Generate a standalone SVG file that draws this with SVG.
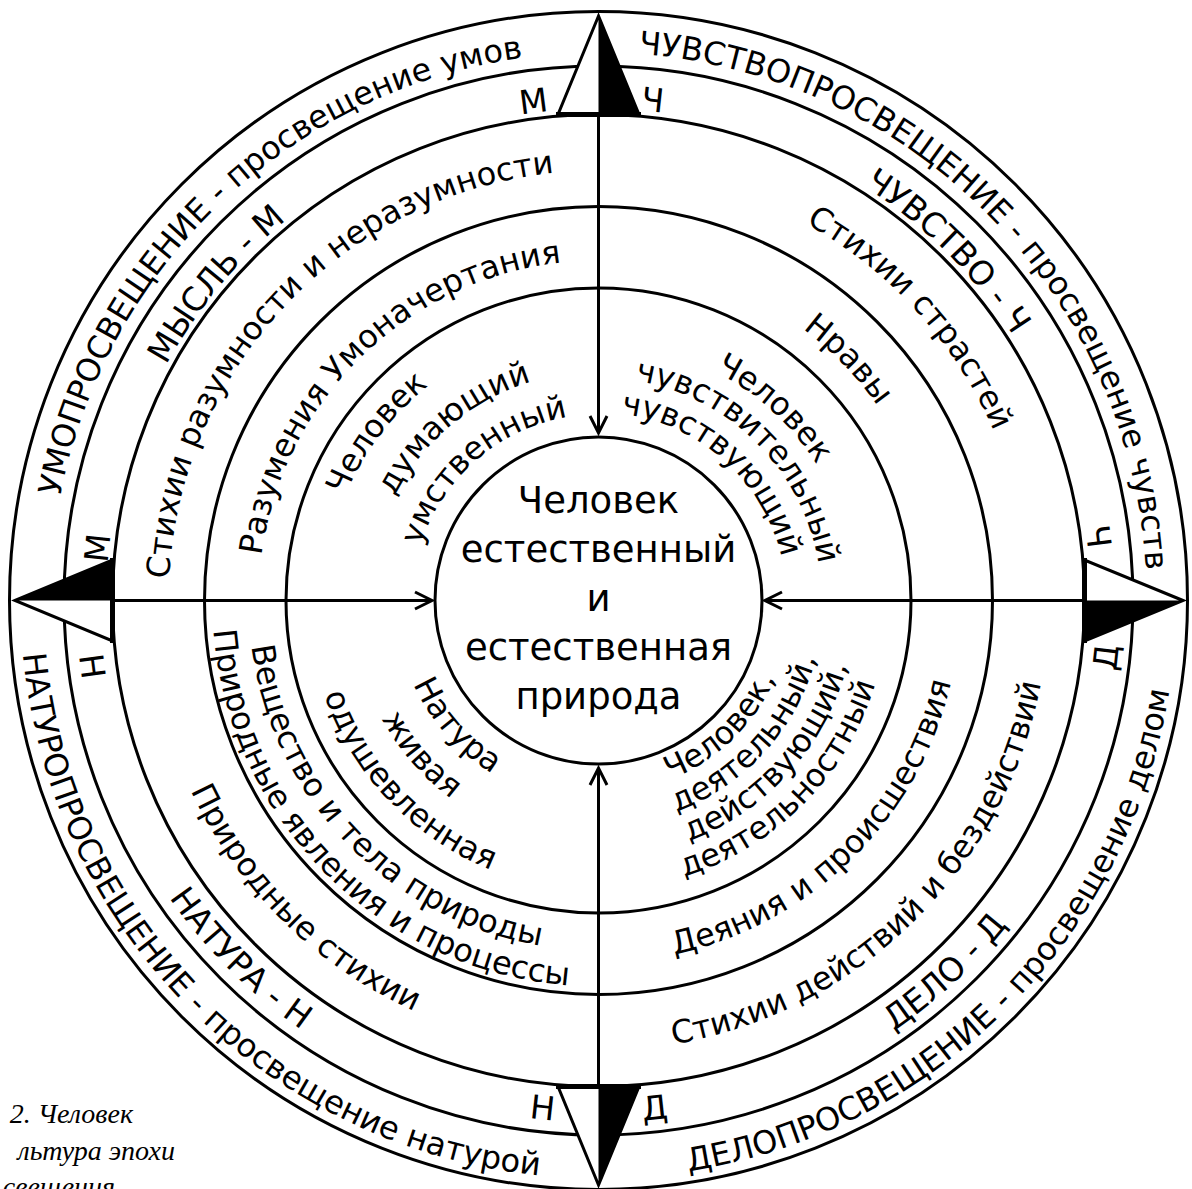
<svg xmlns="http://www.w3.org/2000/svg" xmlns:xlink="http://www.w3.org/1999/xlink" width="1192" height="1189" viewBox="0 0 1192 1189">
<style>
.ring{fill:none;stroke:#000;stroke-width:3}
.t{font-family:"DejaVu Sans","Noto Sans",sans-serif;font-size:32px;fill:#000}
.t2{font-size:33px}
.c{font-family:"DejaVu Sans","Noto Sans",sans-serif;font-size:37px;text-anchor:middle;fill:#000}
.cap{font-family:"Liberation Serif",serif;font-style:italic;font-size:28px;text-anchor:end;fill:#000}
.wing{fill:#fff;stroke:#000;stroke-width:3;stroke-linejoin:miter}
.dark{fill:#000;stroke:none}
.base{stroke:#000;stroke-width:5}
.con{stroke:#000;stroke-width:3;fill:none}
</style>
<defs>
<marker id="ah" viewBox="-20 -12 24 24" markerWidth="24" markerHeight="24" refX="0" refY="0" orient="auto" markerUnits="userSpaceOnUse">
<path d="M-17,-8.5 L0,0 L-17,8.5" fill="none" stroke="#000" stroke-width="3"/>
</marker>
<path id="cw548" d="M598.5,1148.5 A548,548 0 1 1 598.5,52.5 A548,548 0 1 1 598.5,1148.5"/>
<path id="cw492" d="M598.5,1092.5 A492,492 0 1 1 598.5,108.5 A492,492 0 1 1 598.5,1092.5"/>
<path id="cw430" d="M598.5,1030.5 A430,430 0 1 1 598.5,170.5 A430,430 0 1 1 598.5,1030.5"/>
<path id="cw340" d="M598.5,940.5 A340,340 0 1 1 598.5,260.5 A340,340 0 1 1 598.5,940.5"/>
<path id="cw186" d="M598.5,786.5 A186,186 0 1 1 598.5,414.5 A186,186 0 1 1 598.5,786.5"/>
<path id="cw229" d="M598.5,829.5 A229,229 0 1 1 598.5,371.5 A229,229 0 1 1 598.5,829.5"/>
<path id="cw274" d="M598.5,874.5 A274,274 0 1 1 598.5,326.5 A274,274 0 1 1 598.5,874.5"/>
<path id="cw188" d="M598.5,788.5 A188,188 0 1 1 598.5,412.5 A188,188 0 1 1 598.5,788.5"/>
<path id="cw223" d="M598.5,823.5 A223,223 0 1 1 598.5,377.5 A223,223 0 1 1 598.5,823.5"/>
<path id="cw257" d="M598.5,857.5 A257,257 0 1 1 598.5,343.5 A257,257 0 1 1 598.5,857.5"/>
<path id="ccw578" d="M598.5,22.5 A578,578 0 1 0 598.5,1178.5 A578,578 0 1 0 598.5,22.5"/>
<path id="ccw522" d="M598.5,78.5 A522,522 0 1 0 598.5,1122.5 A522,522 0 1 0 598.5,78.5"/>
<path id="ccw450" d="M598.5,150.5 A450,450 0 1 0 598.5,1050.5 A450,450 0 1 0 598.5,150.5"/>
<path id="ccw362" d="M598.5,238.5 A362,362 0 1 0 598.5,962.5 A362,362 0 1 0 598.5,238.5"/>
<path id="ccw386" d="M598.5,214.5 A386,386 0 1 0 598.5,986.5 A386,386 0 1 0 598.5,214.5"/>
<path id="ccw350" d="M598.5,250.5 A350,350 0 1 0 598.5,950.5 A350,350 0 1 0 598.5,250.5"/>
<path id="ccw203" d="M598.5,397.5 A203,203 0 1 0 598.5,803.5 A203,203 0 1 0 598.5,397.5"/>
<path id="ccw247" d="M598.5,353.5 A247,247 0 1 0 598.5,847.5 A247,247 0 1 0 598.5,353.5"/>
<path id="ccw290" d="M598.5,310.5 A290,290 0 1 0 598.5,890.5 A290,290 0 1 0 598.5,310.5"/>
<path id="ccw193" d="M598.5,407.5 A193,193 0 1 0 598.5,793.5 A193,193 0 1 0 598.5,407.5"/>
<path id="ccw225" d="M598.5,375.5 A225,225 0 1 0 598.5,825.5 A225,225 0 1 0 598.5,375.5"/>
<path id="ccw257" d="M598.5,343.5 A257,257 0 1 0 598.5,857.5 A257,257 0 1 0 598.5,343.5"/>
<path id="ccw289" d="M598.5,311.5 A289,289 0 1 0 598.5,889.5 A289,289 0 1 0 598.5,311.5"/>
</defs>
<rect width="1192" height="1189" fill="#fff"/>

<g id="rings">
<circle class="ring" cx="598.5" cy="600.5" r="589"/>
<circle class="ring" cx="598.5" cy="600.5" r="534.5"/>
<circle class="ring" cx="598.5" cy="600.5" r="486"/>
<circle class="ring" cx="598.5" cy="600.5" r="394"/>
<circle class="ring" cx="598.5" cy="600.5" r="312.5"/>
</g>

<g id="compass-top">
<polygon class="wing" points="598.5,16 558,114.5 639,114.5"/>
<polygon class="dark" points="598.5,16 639,114.5 598.5,114.5"/>
<line class="base" x1="556" y1="114.5" x2="641" y2="114.5"/>
</g>
<g id="compass-left">
<polygon class="wing" points="15,600.5 112.5,560 112.5,641"/>
<polygon class="dark" points="15,600.5 112.5,560 112.5,600.5"/>
<line class="base" x1="112.5" y1="558" x2="112.5" y2="643"/>
</g>
<g id="compass-right">
<polygon class="wing" points="1183,600.5 1084.5,560 1084.5,641"/>
<polygon class="dark" points="1183,600.5 1084.5,600.5 1084.5,641"/>
<line class="base" x1="1084.5" y1="558" x2="1084.5" y2="643"/>
</g>
<g id="compass-bottom">
<polygon class="wing" points="598.5,1185 558,1086.5 639,1086.5"/>
<polygon class="dark" points="598.5,1185 598.5,1086.5 639,1086.5"/>
<line class="base" x1="556" y1="1086.5" x2="641" y2="1086.5"/>
</g>

<g id="connectors">
<line class="con" x1="598.5" y1="117" x2="598.5" y2="433" marker-end="url(#ah)"/>
<line class="con" x1="115" y1="600.5" x2="432" y2="600.5" marker-end="url(#ah)"/>
<line class="con" x1="1082" y1="600.5" x2="765" y2="600.5" marker-end="url(#ah)"/>
<line class="con" x1="598.5" y1="1084" x2="598.5" y2="768" marker-end="url(#ah)"/>
</g>

<g id="center">
<circle class="ring" cx="598.5" cy="600.5" r="163.5"/>
<text class="c" x="598.5" y="513">Человек</text>
<text class="c" x="598.5" y="562">естественный</text>
<text class="c" x="598.5" y="611">и</text>
<text class="c" x="598.5" y="660">естественная</text>
<text class="c" x="598.5" y="709">природа</text>
</g>

<g id="outer-ring">
<text class="t" text-anchor="middle"><textPath href="#cw548" xlink:href="#cw548" startOffset="37.92%">УМОПРОСВЕЩЕНИЕ - просвещение умов</textPath></text>
<text class="t" text-anchor="middle"><textPath href="#cw548" xlink:href="#cw548" startOffset="62.64%">ЧУВСТВОПРОСВЕЩЕНИЕ - просвещение чувств</textPath></text>
<text class="t" text-anchor="middle"><textPath href="#ccw578" xlink:href="#ccw578" startOffset="62.5%">ДЕЛОПРОСВЕЩЕНИЕ - просвещение делом</textPath></text>
<text class="t" text-anchor="middle"><textPath href="#ccw578" xlink:href="#ccw578" startOffset="37.42%">НАТУРОПРОСВЕЩЕНИЕ - просвещение натурой</textPath></text>
</g>

<g id="ring-2">
<text class="t t2" text-anchor="middle"><textPath href="#cw492" xlink:href="#cw492" startOffset="36.0%">МЫСЛЬ - М</textPath></text>
<text class="t t2" text-anchor="middle"><textPath href="#cw492" xlink:href="#cw492" startOffset="62.5%">ЧУВСТВО - Ч</textPath></text>
<text class="t t2" text-anchor="middle"><textPath href="#ccw522" xlink:href="#ccw522" startOffset="61.94%">ДЕЛО - Д</textPath></text>
<text class="t t2" text-anchor="middle"><textPath href="#ccw522" xlink:href="#ccw522" startOffset="37.5%">НАТУРА - Н</textPath></text>
<text class="t t2" text-anchor="middle"><textPath href="#cw492" xlink:href="#cw492" startOffset="47.94%">М</textPath></text>
<text class="t t2" text-anchor="middle"><textPath href="#cw492" xlink:href="#cw492" startOffset="51.72%">Ч</textPath></text>
<text class="t t2" text-anchor="middle"><textPath href="#cw492" xlink:href="#cw492" startOffset="26.67%">М</textPath></text>
<text class="t t2" text-anchor="middle"><textPath href="#cw492" xlink:href="#cw492" startOffset="72.97%">Ч</textPath></text>
<text class="t t2" text-anchor="middle"><textPath href="#ccw522" xlink:href="#ccw522" startOffset="27.06%">Н</textPath></text>
<text class="t t2" text-anchor="middle"><textPath href="#ccw522" xlink:href="#ccw522" startOffset="73.22%">Д</textPath></text>
<text class="t t2" text-anchor="middle"><textPath href="#ccw522" xlink:href="#ccw522" startOffset="48.25%">Н</textPath></text>
<text class="t t2" text-anchor="middle"><textPath href="#ccw522" xlink:href="#ccw522" startOffset="51.75%">Д</textPath></text>
</g>

<g id="ring-3">
<text class="t" text-anchor="middle"><textPath href="#cw430" xlink:href="#cw430" startOffset="37.08%">Стихии разумности и неразумности</textPath></text>
<text class="t" text-anchor="middle"><textPath href="#cw430" xlink:href="#cw430" startOffset="63.28%">Стихии страстей</textPath></text>
<text class="t" text-anchor="middle"><textPath href="#ccw450" xlink:href="#ccw450" startOffset="62.36%">Стихии действий и бездействий</textPath></text>
<text class="t" text-anchor="middle"><textPath href="#ccw450" xlink:href="#ccw450" startOffset="37.61%">Природные стихии</textPath></text>
</g>

<g id="ring-4">
<text class="t" text-anchor="middle"><textPath href="#cw340" xlink:href="#cw340" startOffset="37.69%">Разумения Умоначертания</textPath></text>
<text class="t" text-anchor="middle"><textPath href="#cw340" xlink:href="#cw340" startOffset="62.78%">Нравы</textPath></text>
<text class="t" text-anchor="middle"><textPath href="#ccw362" xlink:href="#ccw362" startOffset="62.36%">Деяния и происшествия</textPath></text>
<text class="t" text-anchor="middle"><textPath href="#ccw386" xlink:href="#ccw386" startOffset="37.5%">Природные явления и процессы</textPath></text>
<text class="t" text-anchor="middle"><textPath href="#ccw350" xlink:href="#ccw350" startOffset="37.22%">Вещество и тела природы</textPath></text>
</g>

<g id="ring-5-thinking">
<text class="t" text-anchor="middle"><textPath href="#cw274" xlink:href="#cw274" startOffset="35.3%">Человек</textPath></text>
<text class="t" text-anchor="middle"><textPath href="#cw229" xlink:href="#cw229" startOffset="38.9%">думающий</textPath></text>
<text class="t" text-anchor="middle"><textPath href="#cw186" xlink:href="#cw186" startOffset="38.56%">умственный</textPath></text>
</g>
<g id="ring-5-feeling">
<text class="t" text-anchor="middle"><textPath href="#cw257" xlink:href="#cw257" startOffset="61.81%">Человек</textPath></text>
<text class="t" text-anchor="middle"><textPath href="#cw223" xlink:href="#cw223" startOffset="62.5%">чувствительный</textPath></text>
<text class="t" text-anchor="middle"><textPath href="#cw188" xlink:href="#cw188" startOffset="61.6%">чувствующий</textPath></text>
</g>
<g id="ring-5-acting">
<text class="t" text-anchor="middle"><textPath href="#ccw193" xlink:href="#ccw193" startOffset="62.22%">Человек,</textPath></text>
<text class="t" text-anchor="middle"><textPath href="#ccw225" xlink:href="#ccw225" startOffset="63.25%">деятельный,</textPath></text>
<text class="t" text-anchor="middle"><textPath href="#ccw257" xlink:href="#ccw257" startOffset="63.33%">действующий,</textPath></text>
<text class="t" text-anchor="middle"><textPath href="#ccw289" xlink:href="#ccw289" startOffset="62.56%">деятельностный</textPath></text>
</g>
<g id="ring-5-nature">
<text class="t" text-anchor="middle"><textPath href="#ccw203" xlink:href="#ccw203" startOffset="36.5%">Натура</textPath></text>
<text class="t" text-anchor="middle"><textPath href="#ccw247" xlink:href="#ccw247" startOffset="36.39%">живая</textPath></text>
<text class="t" text-anchor="middle"><textPath href="#ccw290" xlink:href="#ccw290" startOffset="37.11%">одушевленная</textPath></text>
</g>

<g id="caption">
<text class="cap" x="133" y="1123">2. Человек</text>
<text class="cap" x="175" y="1160">льтура эпохи</text>
<text class="cap" x="115" y="1196">свещения</text>
</g>
</svg>
